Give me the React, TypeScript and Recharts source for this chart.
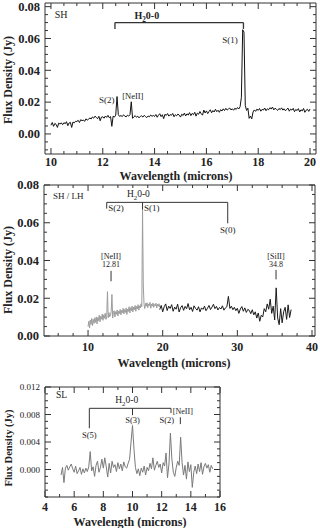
import React from 'react';
import { LineChart, Line, XAxis, YAxis, ReferenceLine, ReferenceDot } from 'recharts';

const FONT = '"Liberation Serif", "DejaVu Serif", serif';
const FRAME = '#333';
const INK = '#222';

// ---------- Panel 1: SH ----------
const shStart = 10.0;
const shStep = 0.05;
const shFlux = [
  0.0055, 0.0072, 0.0048, 0.0066, 0.0060, 0.0041, 0.0068, 0.0062, 0.0070, 0.0058,
  0.0071, 0.0064, 0.0077, 0.0052, 0.0069, 0.0073, 0.0041, 0.0075, 0.0070, 0.0080,
  0.0078, 0.0086, 0.0072, 0.0090, 0.0083, 0.0088, 0.0079, 0.0095, 0.0087, 0.0092,
  0.0101, 0.0094, 0.0107, 0.0099, 0.0112, 0.0104, 0.0096, 0.0111, 0.0083, 0.0106,
  0.0108, 0.0099, 0.0113, 0.0104, 0.0117, 0.0102, 0.0109, 0.0048, 0.0112, 0.0106,
  0.0118, 0.0235, 0.0121, 0.0110, 0.0116, 0.0109, 0.0120, 0.0113, 0.0107, 0.0118,
  0.0112, 0.0121, 0.0202, 0.0098, 0.0108, 0.0115, 0.0105, 0.0112, 0.0101, 0.0110,
  0.0114, 0.0106, 0.0117, 0.0109, 0.0103, 0.0113, 0.0108, 0.0119, 0.0111, 0.0116,
  0.0110, 0.0122, 0.0105, 0.0118, 0.0127, 0.0109, 0.0121, 0.0096, 0.0124, 0.0116,
  0.0128, 0.0112, 0.0122, 0.0117, 0.0129, 0.0108, 0.0121, 0.0114, 0.0125, 0.0118,
  0.0106, 0.0124, 0.0116, 0.0131, 0.0113, 0.0127, 0.0119, 0.0134, 0.0115, 0.0129,
  0.0121, 0.0136, 0.0112, 0.0131, 0.0124, 0.0141, 0.0127, 0.0118, 0.0150, 0.0132,
  0.0145, 0.0128, 0.0141, 0.0152, 0.0133, 0.0147, 0.0138, 0.0155, 0.0140, 0.0149,
  0.0136, 0.0153, 0.0144, 0.0158, 0.0147, 0.0161, 0.0150, 0.0157, 0.0163, 0.0151,
  0.0158, 0.0149, 0.0162, 0.0154, 0.0166, 0.0157, 0.0171, 0.0230, 0.0655, 0.0640,
  0.0180, 0.0148, 0.0162, 0.0098, 0.0112, 0.0095, 0.0138, 0.0151, 0.0142, 0.0156,
  0.0148, 0.0160, 0.0143, 0.0155, 0.0150, 0.0163, 0.0146, 0.0158, 0.0152, 0.0165,
  0.0157, 0.0169, 0.0151, 0.0162, 0.0155, 0.0148, 0.0160, 0.0153, 0.0164, 0.0150,
  0.0158, 0.0146, 0.0155, 0.0162, 0.0143, 0.0156, 0.0150, 0.0161, 0.0140, 0.0154,
  0.0147, 0.0159, 0.0138, 0.0152, 0.0145, 0.0160, 0.0136, 0.0149, 0.0155, 0.0142,
  0.0157,
];

// ---------- Panel 2: SH (grey) / LH (black) ----------
const sh2Start = 10.0;
const sh2Step = 0.1;
const sh2Flux = [
  0.0050, 0.0078, 0.0042, 0.0085, 0.0061, 0.0093, 0.0055, 0.0088, 0.0067, 0.0096,
  0.0072, 0.0101, 0.0064, 0.0098, 0.0081, 0.0110, 0.0075, 0.0104, 0.0089, 0.0116,
  0.0083, 0.0112, 0.0094, 0.0121, 0.0088, 0.0104, 0.0235, 0.0097, 0.0124, 0.0102,
  0.0108, 0.0131, 0.0220, 0.0095, 0.0126, 0.0134, 0.0101, 0.0129, 0.0115, 0.0138,
  0.0106, 0.0132, 0.0119, 0.0141, 0.0112, 0.0136, 0.0123, 0.0147, 0.0117, 0.0140,
  0.0125, 0.0149, 0.0114, 0.0143, 0.0130, 0.0155, 0.0122, 0.0150, 0.0134, 0.0158,
  0.0127, 0.0153, 0.0139, 0.0162, 0.0131, 0.0157, 0.0144, 0.0166, 0.0137, 0.0160,
  0.0148, 0.0171, 0.0155, 0.0670, 0.0270, 0.0168, 0.0145, 0.0173, 0.0158, 0.0176,
  0.0150, 0.0170, 0.0161, 0.0178, 0.0147, 0.0169, 0.0158, 0.0175, 0.0152, 0.0167,
  0.0160, 0.0174, 0.0149, 0.0168, 0.0157, 0.0171, 0.0153,
];
const lhStart = 19.6;
const lhStep = 0.2;
const lhFlux = [
  0.0140, 0.0162, 0.0128, 0.0155, 0.0170, 0.0135, 0.0158, 0.0146, 0.0166, 0.0131,
  0.0153, 0.0142, 0.0169, 0.0127, 0.0150, 0.0161, 0.0136, 0.0157, 0.0144, 0.0172,
  0.0139, 0.0152, 0.0130, 0.0160, 0.0146, 0.0137, 0.0155, 0.0128, 0.0149, 0.0141,
  0.0158, 0.0134, 0.0147, 0.0162, 0.0140, 0.0153, 0.0168, 0.0145, 0.0157, 0.0138,
  0.0151, 0.0143, 0.0160, 0.0137, 0.0149, 0.0155, 0.0210, 0.0146, 0.0158, 0.0139,
  0.0152, 0.0134, 0.0147, 0.0120, 0.0143, 0.0156, 0.0131, 0.0149, 0.0125, 0.0141,
  0.0136, 0.0118, 0.0139, 0.0112, 0.0128, 0.0095, 0.0122, 0.0078, 0.0110, 0.0101,
  0.0145, 0.0128, 0.0170, 0.0142, 0.0195, 0.0120, 0.0158, 0.0085, 0.0255, 0.0095,
  0.0060, 0.0145, 0.0070, 0.0128, 0.0152, 0.0088, 0.0165, 0.0098, 0.0140,
];

// ---------- Panel 3: SL ----------
const slStart = 5.1;
const slStep = 0.1;
const slFlux = [
  -0.0008, 0.0003, -0.0019, 0.0002, 0.0006, -0.0001, 0.0004, 0.0008, 0.0001, -0.0004,
  0.0005, -0.0006, -0.0002, 0.0003, -0.0007, 0.0001, -0.0005, 0.0002, -0.0003, 0.0004,
  0.0026, -0.0002, 0.0004, -0.0010, 0.0006, 0.0012, -0.0004, 0.0003, 0.0015, 0.0002,
  0.0017, 0.0004, -0.0011, 0.0009, -0.0005, 0.0012, 0.0003, 0.0007, -0.0003, 0.0010,
  0.0001, 0.0008, -0.0002, 0.0011, 0.0004, 0.0002, 0.0009, 0.0015, 0.0040, 0.0064,
  0.0030, 0.0003, -0.0006, 0.0001, -0.0009, 0.0002, -0.0004, 0.0005, -0.0008, 0.0003,
  -0.0002, 0.0009, 0.0001, 0.0017, -0.0001, 0.0006, 0.0012, 0.0003, 0.0008, -0.0005,
  0.0010, 0.0005, 0.0024, -0.0012, 0.0008, 0.0053, 0.0015, -0.0004, -0.0010, 0.0003,
  0.0012, 0.0006, 0.0047, 0.0010, -0.0008, 0.0006, -0.0014, 0.0011, -0.0003, 0.0007,
  -0.0026, -0.0004, 0.0005, -0.0006, 0.0008, -0.0003, 0.0010, -0.0007, 0.0004, 0.0009,
  0.0002, 0.0007, -0.0004, 0.0006, 0.0001,
];

// ---------- tick labels ----------
const p1XMajor = [10, 12, 14, 16, 18, 20];
const p1YMajor = [0, 0.02, 0.04, 0.06, 0.08];
const p2XMajor = [10, 20, 30, 40];
const p2YMajor = [0, 0.02, 0.04, 0.06, 0.08];
const p3XMajor = [4, 6, 8, 10, 12, 14, 16];
const p3YMajor = [0, 0.004, 0.008, 0.012];

// ---------- annotations ----------
const p1Texts = [
  { x: 10.39, y: 0.0748, t: 'SH', fs: 10 },
  { x: 16.91, y: 0.0591, t: 'S(1)', fs: 9 },
  { x: 12.15, y: 0.0214, t: 'S(2)', fs: 9 },
  { x: 13.16, y: 0.0236, t: '[NeII]', fs: 8.5 },
];
const p1H2 = { x: 13.7, y: 0.0742 };
const p1Bracket = [
  [{ x: 12.47, y: 0.0700 }, { x: 17.43, y: 0.0700 }],
  [{ x: 12.47, y: 0.0700 }, { x: 12.47, y: 0.0660 }],
  [{ x: 17.43, y: 0.0700 }, { x: 17.43, y: 0.0660 }],
];

const p2Texts = [
  { x: 7.36, y: 0.0742, t: 'SH / LH', fs: 9 },
  { x: 13.75, y: 0.0677, t: 'S(2)', fs: 9 },
  { x: 18.53, y: 0.0677, t: 'S(1)', fs: 9 },
  { x: 28.7, y: 0.0562, t: 'S(0)', fs: 9 },
  { x: 13.08, y: 0.0422, t: '[NeII]', fs: 8 },
  { x: 13.08, y: 0.0377, t: '12.81', fs: 8 },
  { x: 35.18, y: 0.0422, t: '[SiII]', fs: 8 },
  { x: 35.18, y: 0.0377, t: '34.8', fs: 8 },
];
const p2H2 = { x: 16.74, y: 0.0751 };
const p2Bracket = [
  [{ x: 12.5, y: 0.0708 }, { x: 28.71, y: 0.0708 }],
  [{ x: 12.5, y: 0.0708 }, { x: 12.5, y: 0.0675 }],
  [{ x: 17.3, y: 0.0708 }, { x: 17.3, y: 0.0670 }],
  [{ x: 28.71, y: 0.0708 }, { x: 28.71, y: 0.0597 }],
  [{ x: 13.08, y: 0.0345 }, { x: 13.08, y: 0.0290 }],
  [{ x: 35.18, y: 0.0350 }, { x: 35.18, y: 0.0300 }],
];

const p3Texts = [
  { x: 5.14, y: 0.0108, t: 'SL', fs: 9.5 },
  { x: 7.04, y: 0.0050, t: 'S(5)', fs: 8.5 },
  { x: 10.0, y: 0.0071, t: 'S(3)', fs: 8.5 },
  { x: 12.35, y: 0.0071, t: 'S(2)', fs: 8.5 },
  { x: 13.45, y: 0.0085, t: '[NeII]', fs: 8 },
];
const p3H2 = { x: 9.6, y: 0.0101 };
const p3Bracket = [
  [{ x: 7.04, y: 0.0089 }, { x: 12.64, y: 0.0089 }],
  [{ x: 7.04, y: 0.0089 }, { x: 7.04, y: 0.0060 }],
  [{ x: 10.0, y: 0.0089 }, { x: 10.0, y: 0.0079 }],
  [{ x: 12.64, y: 0.0089 }, { x: 12.64, y: 0.0082 }],
  [{ x: 13.28, y: 0.0076 }, { x: 13.28, y: 0.0066 }],
];

// ---------- helpers ----------
const toSeries = (start: number, step: number, ys: number[]) =>
  ys.map((y, i) => ({ x: +(start + i * step).toFixed(4), y }));

const range = (a: number, b: number, s: number) => {
  const out: number[] = [];
  const n = Math.round((b - a) / s);
  for (let i = 0; i <= n; i++) out.push(+(a + i * s).toFixed(6));
  return out;
};

type Side = 'bottom' | 'top' | 'left' | 'right';
interface TickOpts {
  majors: number[];
  fmt?: (v: number) => string;
  fs?: number;
  fw?: number | string;
  dy?: number;
  dx?: number;
}
const makeTick = (side: Side, o: TickOpts) => (props: any) => {
  const { x, y, payload } = props;
  const v = payload.value;
  const isMajor = o.majors.some((m) => Math.abs(m - v) < 1e-7);
  const len = isMajor ? 6 : 3;
  let l = { x1: x, y1: y, x2: x, y2: y };
  if (side === 'bottom') l = { x1: x, y1: y, x2: x, y2: y - len };
  if (side === 'top') l = { x1: x, y1: y, x2: x, y2: y + len };
  if (side === 'left') l = { x1: x, y1: y, x2: x + len, y2: y };
  if (side === 'right') l = { x1: x, y1: y, x2: x - len, y2: y };
  let label = null;
  if (isMajor && o.fmt) {
    if (side === 'bottom')
      label = (
        <text x={x} y={y + (o.dy ?? 13)} textAnchor="middle" fontFamily={FONT} fontSize={o.fs ?? 12.5} fontWeight={o.fw ?? 'bold'} fill={INK}>
          {o.fmt(v)}
        </text>
      );
    if (side === 'left')
      label = (
        <text x={x - (o.dx ?? 5)} y={y + (o.dy ?? 4.3)} textAnchor="end" fontFamily={FONT} fontSize={o.fs ?? 12.5} fontWeight={o.fw ?? 'bold'} fill={INK}>
          {o.fmt(v)}
        </text>
      );
  }
  return (
    <g>
      <line {...l} stroke={FRAME} strokeWidth={1} />
      {label}
    </g>
  );
};

interface FrameCfg {
  xDomain: [number, number];
  yDomain: [number, number];
  xTicks: number[];
  yTicks: number[];
  xTick: TickOpts;
  yTick: TickOpts;
}
// Axes are 1px thick (a 0px axis is not drawn); chart margins are reduced by 1 to compensate.
const frameAxes = (c: FrameCfg) => [
  <XAxis key="xb" xAxisId={0} type="number" dataKey="x" domain={c.xDomain} allowDataOverflow ticks={c.xTicks} interval={0}
    height={1} tickSize={0} tickMargin={0} axisLine={{ stroke: FRAME, strokeWidth: 1 }} tickLine={false}
    tick={makeTick('bottom', c.xTick)} />,
  <XAxis key="xt" xAxisId="top" orientation="top" type="number" dataKey="x" domain={c.xDomain} allowDataOverflow ticks={c.xTicks} interval={0}
    height={1} tickSize={0} tickMargin={0} axisLine={{ stroke: FRAME, strokeWidth: 1 }} tickLine={false}
    tick={makeTick('top', { majors: c.xTick.majors })} />,
  <YAxis key="yl" yAxisId={0} type="number" domain={c.yDomain} allowDataOverflow ticks={c.yTicks} interval={0}
    width={1} tickSize={0} tickMargin={0} axisLine={{ stroke: FRAME, strokeWidth: 1 }} tickLine={false}
    tick={makeTick('left', c.yTick)} />,
  <YAxis key="yr" yAxisId="right" orientation="right" type="number" domain={c.yDomain} allowDataOverflow ticks={c.yTicks} interval={0}
    width={1} tickSize={0} tickMargin={0} axisLine={{ stroke: FRAME, strokeWidth: 1 }} tickLine={false}
    tick={makeTick('right', { majors: c.yTick.majors })} />,
];

const textLabel = (t: string, fs: number, fw: number | string = 'normal') => (props: any) => {
  const vb = props.viewBox || { x: 0, y: 0, width: 0, height: 0 };
  const cx = vb.x + (vb.width || 0) / 2;
  const cy = vb.y + (vb.height || 0) / 2;
  return (
    <text x={cx} y={cy + fs * 0.33} textAnchor="middle" fontFamily={FONT} fontSize={fs} fontWeight={fw} fill={INK}>
      {t}
    </text>
  );
};
const h2Label = (fs: number, fw: number | string) => (props: any) => {
  const vb = props.viewBox || { x: 0, y: 0, width: 0, height: 0 };
  const cx = vb.x + (vb.width || 0) / 2;
  const cy = vb.y + (vb.height || 0) / 2;
  return (
    <text x={cx} y={cy + fs * 0.33} textAnchor="middle" fontFamily={FONT} fontSize={fs} fontWeight={fw} fill={INK}>
      H<tspan dy={fs * 0.3} fontSize={fs * 0.72}>2</tspan>
      <tspan dy={-fs * 0.3}>0-0</tspan>
    </text>
  );
};

const annotations = (
  texts: { x: number; y: number; t: string; fs: number }[],
  h2: { x: number; y: number },
  h2fs: number,
  h2fw: number | string,
  segs: { x: number; y: number }[][],
  segW: number,
) => [
  ...segs.map((s, i) => (
    <ReferenceLine key={'seg' + i} segment={s} stroke={FRAME} strokeWidth={segW} ifOverflow="visible" />
  )),
  ...texts.map((a, i) => (
    <ReferenceDot key={'txt' + i} x={a.x} y={a.y} r={0} fill="none" stroke="none" ifOverflow="visible" label={textLabel(a.t, a.fs)} />
  )),
  <ReferenceDot key="h2" x={h2.x} y={h2.y} r={0} fill="none" stroke="none" ifOverflow="visible" label={h2Label(h2fs, h2fw)} />,
];

const fmt2 = (v: number) => v.toFixed(2);
const fmt3 = (v: number) => v.toFixed(3);
const fmt0 = (v: number) => String(Math.round(v));

export default function App() {
  const sh = toSeries(shStart, shStep, shFlux);
  const sh2 = toSeries(sh2Start, sh2Step, sh2Flux);
  const lh = toSeries(lhStart, lhStep, lhFlux);
  const sl = toSeries(slStart, slStep, slFlux);

  return (
    <div style={{ position: 'absolute', left: 0, top: 0, width: 320, height: 528, background: '#fff', overflow: 'hidden' }}>
      <div style={{ position: 'absolute', left: 0, top: 0 }}>
        <LineChart width={320} height={172} margin={{ top: 2, right: 3, bottom: 17, left: 44 }}>
          {frameAxes({
            xDomain: [9.77, 20.23],
            yDomain: [-0.0126, 0.0823],
            xTicks: range(10, 20, 0.5),
            yTicks: range(-0.01, 0.08, 0.005),
            xTick: { majors: p1XMajor, fmt: fmt0, dy: 11.5, fs: 12 },
            yTick: { majors: p1YMajor, fmt: fmt2 },
          })}
          {annotations(p1Texts, p1H2, 10, 'bold', p1Bracket, 1.3)}
          <Line data={sh} dataKey="y" xAxisId={0} yAxisId={0} type="linear" dot={false} stroke="#111" strokeWidth={1} isAnimationActive={false} />
        </LineChart>
      </div>
      <div style={{ position: 'absolute', left: 0, top: 174 }}>
        <LineChart width={320} height={182} margin={{ top: 10, right: 4, bottom: 19, left: 43 }}>
          {frameAxes({
            xDomain: [4.1, 40.4],
            yDomain: [0, 0.08],
            xTicks: range(6, 40, 2),
            yTicks: range(0, 0.08, 0.005),
            xTick: { majors: p2XMajor, fmt: fmt0, dy: 14.5, fs: 12 },
            yTick: { majors: p2YMajor, fmt: fmt2 },
          })}
          <Line data={sh2} dataKey="y" xAxisId={0} yAxisId={0} type="linear" dot={false} stroke="#9c9c9c" strokeWidth={1} isAnimationActive={false} />
          <Line data={lh} dataKey="y" xAxisId={0} yAxisId={0} type="linear" dot={false} stroke="#1a1a1a" strokeWidth={1} isAnimationActive={false} />
          {annotations(p2Texts, p2H2, 9.5, 'normal', p2Bracket, 1)}
        </LineChart>
      </div>
      <div style={{ position: 'absolute', left: 0, top: 370 }}>
        <LineChart width={320} height={145} margin={{ top: 16, right: 99, bottom: 17, left: 44 }}>
          {frameAxes({
            xDomain: [4, 16],
            yDomain: [-0.004, 0.012],
            xTicks: range(4, 16, 1),
            yTicks: range(-0.004, 0.012, 0.001),
            xTick: { majors: p3XMajor, fmt: fmt0, dy: 14, fs: 12 },
            yTick: { majors: p3YMajor, fmt: fmt3, fs: 9, fw: 'normal', dy: 3 },
          })}
          <Line data={sl} dataKey="y" xAxisId={0} yAxisId={0} type="linear" dot={false} stroke="#7a7a7a" strokeWidth={1} isAnimationActive={false} />
          {annotations(p3Texts, p3H2, 9.5, 'normal', p3Bracket, 1)}
        </LineChart>
      </div>
      <svg width={320} height={528} style={{ position: 'absolute', left: 0, top: 0, pointerEvents: 'none' }}>
        <g fontFamily={FONT} fontWeight="bold" fill={INK}>
          <text x={176} y={179.5} fontSize={12} textAnchor="middle">Wavelength (microns)</text>
          <text x={174} y={367} fontSize={12} textAnchor="middle">Wavelength (microns)</text>
          <text x={130} y={526} fontSize={12} textAnchor="middle">Wavelength (microns)</text>
          <text transform="translate(12,80) rotate(-90)" fontSize={12} textAnchor="middle">Flux Density (Jy)</text>
          <text transform="translate(12,270) rotate(-90)" fontSize={12} textAnchor="middle">Flux Density (Jy)</text>
          <text transform="translate(12,448) rotate(-90)" fontSize={10.5} textAnchor="middle">Flux Density (Jy)</text>
        </g>
      </svg>
    </div>
  );
}
